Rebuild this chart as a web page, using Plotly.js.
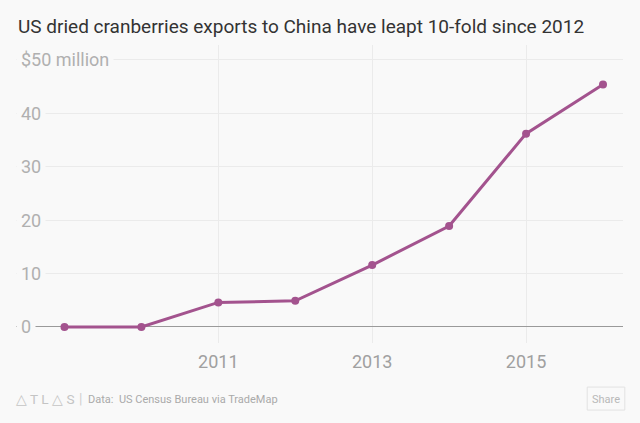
<!DOCTYPE html>
<html><head><meta charset="utf-8">
<script src="https://cdn.plot.ly/plotly-3.0.1.min.js"></script>
<style>html,body{margin:0;padding:0;background:#f9f9f9;}#chart{width:640px;height:423px;}</style>
</head><body><div id="chart"></div>
<script>
const years = [2009, 2010, 2011, 2012, 2013, 2014, 2015, 2016];
const exportsMillion = [0, 0, 4.6, 4.9, 11.6, 18.9, 36.2, 45.4];
const xTicks = [2011, 2013, 2015];
const yTicks = [0, 10, 20, 30, 40, 50];
const yTickLabels = ['0', '10', '20', '30', '40', '$50 million'];
const titleText = 'US dried cranberries exports to China have leapt 10-fold since 2012';
const sourceText = 'Data:  US Census Bureau via TradeMap';

const lineColor = '#a3538e';
const font = 'Roboto, "Noto Sans", sans-serif';

const yLabelAnnotations = yTicks.map((v, i) => ({
  xref: 'paper', yref: 'y', x: 0, y: v, xanchor: 'left', yanchor: 'middle',
  text: yTickLabels[i], showarrow: false, bgcolor: '#f9f9f9', borderpad: 4,
  font: {family: font, size: 18, color: '#b0b0b0'}
}));

const footY = -0.188;
const layout = {
  width: 640, height: 423,
  paper_bgcolor: '#f9f9f9', plot_bgcolor: '#f9f9f9',
  margin: {l: 16, r: 17, t: 45, b: 80},
  showlegend: false,
  title: {text: titleText, x: 0, xref: 'paper', xanchor: 'left', y: 0.953, yanchor: 'top',
    pad: {l: 2}, font: {family: font, size: 19, color: '#333333'}},
  xaxis: {range: [2008.37, 2016.26], tickvals: xTicks, ticktext: xTicks.map(String),
    showgrid: true, gridcolor: '#ebebeb', gridwidth: 1, zeroline: false, showline: false,
    ticks: '', tickfont: {family: font, size: 18, color: '#a0a0a0'}, ticklabelstandoff: 6},
  yaxis: {range: [-3.0, 52.8], tickvals: yTicks, showticklabels: false,
    showgrid: true, gridcolor: '#ebebeb', gridwidth: 1,
    zeroline: true, zerolinecolor: '#9a9a9a', zerolinewidth: 1, showline: false, ticks: ''},
  annotations: yLabelAnnotations.concat([
    {xref: 'paper', yref: 'paper', x: -0.003, y: footY, xanchor: 'left', yanchor: 'middle',
     text: '△ T L △ S', showarrow: false, font: {family: font, size: 13.6, color: '#c4c4c4'}},
    {xref: 'paper', yref: 'paper', x: 0.1, y: footY, xanchor: 'left', yanchor: 'middle',
     text: '|', showarrow: false, font: {family: font, size: 14, color: '#d0d0d0'}},
    {xref: 'paper', yref: 'paper', x: 0.116, y: footY, xanchor: 'left', yanchor: 'middle',
     text: sourceText, showarrow: false, font: {family: font, size: 11, color: '#aaaaaa'}},
    {xref: 'paper', yref: 'paper', x: 0.972, y: footY, xanchor: 'center', yanchor: 'middle',
     text: 'Share', showarrow: false, font: {family: font, size: 11, color: '#b8b8b8'}}
  ]),
  shapes: [
    {type: 'rect', xref: 'paper', yref: 'paper', x0: 0.941, x1: 1.003, y0: -0.225, y1: -0.148,
     line: {color: '#e2e2e2', width: 1}, fillcolor: '#f9f9f9'}
  ]
};

Plotly.newPlot('chart', [{
  x: years, y: exportsMillion, type: 'scatter', mode: 'lines+markers',
  line: {color: lineColor, width: 3}, marker: {color: lineColor, size: 8}, cliponaxis: false,
  hoverinfo: 'x+y'
}], layout, {displayModeBar: false, staticPlot: true});
</script></body></html>
